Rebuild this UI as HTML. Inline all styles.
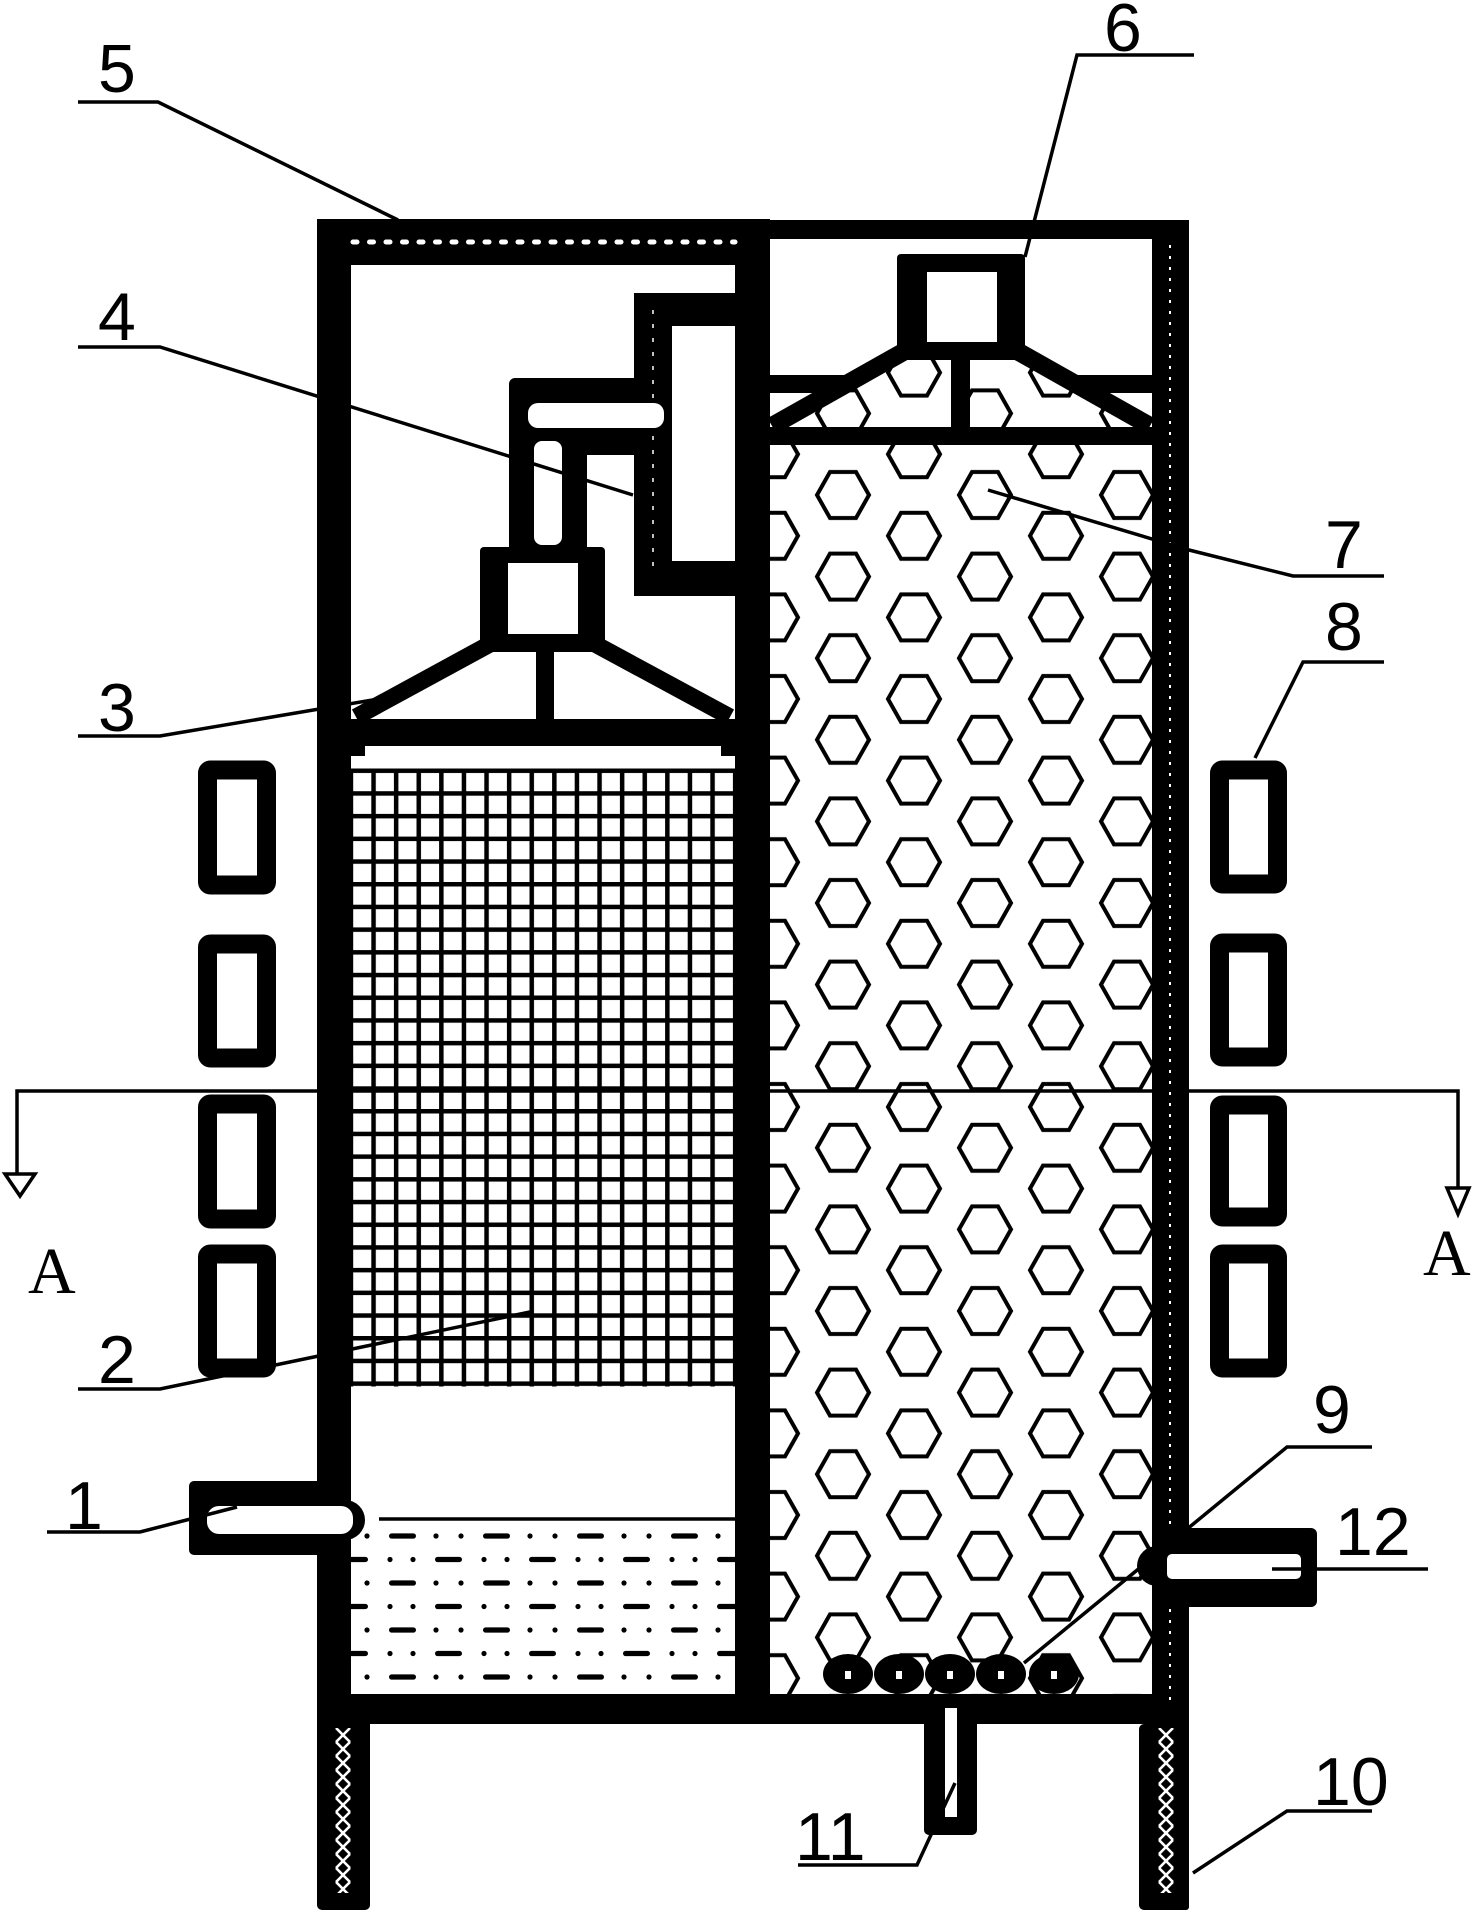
<!DOCTYPE html>
<html><head><meta charset="utf-8"><style>
html,body{margin:0;padding:0;background:#fff;}
svg{display:block;}
text{font-family:"Liberation Sans",sans-serif;font-size:68px;fill:#000;}
.a{font-family:"Liberation Serif",serif;font-size:66px;}
</style></head><body>
<svg width="1474" height="1915" viewBox="0 0 1474 1915" xmlns="http://www.w3.org/2000/svg">
<defs>
  <pattern id="hex" patternUnits="userSpaceOnUse" x="843" y="495" width="142" height="81.6">
    <g fill="none" stroke="#000" stroke-width="4">
      <polygon points="-26,0 -13,-23 13,-23 26,0 13,23 -13,23"/>
      <polygon points="116,0 129,-23 155,-23 168,0 155,23 129,23"/>
      <polygon points="-26,81.6 -13,58.6 13,58.6 26,81.6 13,104.6 -13,104.6"/>
      <polygon points="116,81.6 129,58.6 155,58.6 168,81.6 155,104.6 129,104.6"/>
      <polygon points="45,40.8 58,17.8 84,17.8 97,40.8 84,63.8 58,63.8"/>
    </g>
  </pattern>
  <pattern id="grid" patternUnits="userSpaceOnUse" x="371.3" y="768.5" width="22.6" height="22.7">
    <rect x="0" y="0" width="4.5" height="22.7" fill="#000"/>
    <rect x="0" y="0" width="22.6" height="4.5" fill="#000"/>
  </pattern>
  <pattern id="liq" patternUnits="userSpaceOnUse" x="367" y="1536" width="94" height="47">
    <g fill="#000">
      <circle cx="0" cy="0" r="2.6"/><circle cx="94" cy="0" r="2.6"/>
      <rect x="22" y="-2.6" width="27" height="5.2" rx="2.6"/>
      <circle cx="69" cy="0" r="2.6"/>
      <circle cx="0" cy="47" r="2.6"/><circle cx="94" cy="47" r="2.6"/>
      <rect x="22" y="44.4" width="27" height="5.2" rx="2.6"/>
      <circle cx="69" cy="47" r="2.6"/>
      <circle cx="23" cy="23.5" r="2.6"/>
      <circle cx="46" cy="23.5" r="2.6"/>
      <rect x="68" y="20.9" width="27" height="5.2" rx="2.6"/>
      <rect x="-26" y="20.9" width="27" height="5.2" rx="2.6"/>
    </g>
  </pattern>
  <pattern id="hatch" patternUnits="userSpaceOnUse" x="334" y="1728" width="18" height="14">
    <path d="M2,0 L16,14 M16,0 L2,14" stroke="#fff" stroke-width="2.6"/>
  </pattern>
  <pattern id="hatch2" patternUnits="userSpaceOnUse" x="1157" y="1728" width="18" height="14">
    <path d="M2,0 L16,14 M16,0 L2,14" stroke="#fff" stroke-width="2.6"/>
  </pattern>
  <clipPath id="hexclip">
    <polygon points="897,345 1025,345 1152,420 1152,1694 769,1694 769,420"/>
  </clipPath>
</defs>

<rect x="769" y="300" width="383" height="1394" fill="url(#hex)" clip-path="url(#hexclip)"/>
<rect x="351" y="768.5" width="384" height="618" fill="url(#grid)"/>

<line x1="379" y1="1519" x2="735" y2="1519" stroke="#000" stroke-width="3.5"/>
<rect x="351" y="1525" width="384" height="165" fill="url(#liq)"/>

<g stroke="#000" stroke-width="3.5" fill="#fff">
  <polyline points="17,1175 17,1091 1458,1091 1458,1189" fill="none"/>
  <polygon points="5,1174 35,1174 20,1196"/>
  <polygon points="1447,1188 1469,1188 1458,1214"/>
</g>

<g fill="#000">
  <rect x="317" y="219" width="453" height="46"/>
  <rect x="735" y="220" width="454" height="19"/>
  <rect x="317" y="219" width="34" height="1505"/>
  <rect x="735" y="219" width="35" height="1475"/>
  <rect x="1152" y="220" width="37" height="1690" rx="3"/>
  <rect x="317" y="1694" width="872" height="30"/>
  <rect x="317" y="1694" width="53" height="216" rx="5"/>
  <rect x="1139" y="1724" width="50" height="186" rx="5"/>
</g>
<line x1="353" y1="242" x2="735" y2="242" stroke="#fff" stroke-width="5" stroke-dasharray="4 12.5" stroke-linecap="round"/>
<line x1="1170" y1="245" x2="1170" y2="1700" stroke="#fff" stroke-width="2" stroke-dasharray="3 8"/>
<rect x="334" y="1728" width="18" height="165" fill="url(#hatch)"/>
<rect x="1157" y="1728" width="18" height="165" fill="url(#hatch2)"/>

<g fill="#000">
  <rect x="634" y="293" width="101" height="303"/>
  <rect x="509" y="378" width="160" height="77" rx="6"/>
  <rect x="630" y="390" width="48" height="55" rx="22"/>
  <rect x="509" y="430" width="78" height="120"/>
  <rect x="480" y="547" width="125" height="105" rx="4"/>
  <rect x="536" y="645" width="18" height="76"/>
  <rect x="351" y="719" width="384" height="27"/>
  <rect x="351" y="740" width="14" height="16"/>
  <rect x="721" y="740" width="14" height="16"/>
</g>
<rect x="672" y="326" width="63" height="235" fill="#fff"/>
<line x1="653" y1="310" x2="653" y2="575" stroke="#fff" stroke-width="1.5" stroke-dasharray="4 10"/>
<rect x="528" y="403" width="136" height="25" rx="10" fill="#fff"/>
<rect x="534" y="441" width="28" height="104" rx="8" fill="#fff"/>
<rect x="508" y="563" width="70" height="71" fill="#fff"/>
<g stroke="#000" stroke-width="17" stroke-linecap="butt">
  <line x1="490" y1="644" x2="356" y2="717"/>
  <line x1="595" y1="644" x2="730" y2="717"/>
</g>

<g fill="#000">
  <rect x="897" y="254" width="128" height="106" rx="4"/>
  <rect x="951" y="355" width="19" height="74"/>
  <rect x="769" y="427" width="383" height="18"/>
  <rect x="769" y="375" width="78" height="18"/>
  <rect x="1076" y="375" width="76" height="18"/>
</g>
<rect x="927" y="272" width="70" height="70" fill="#fff"/>
<g stroke="#000" stroke-width="18">
  <line x1="905" y1="351" x2="772" y2="426"/>
  <line x1="1017" y1="351" x2="1150" y2="426"/>
</g>

<g fill="#000">
  <ellipse cx="848" cy="1674" rx="25" ry="20"/><ellipse cx="899" cy="1674" rx="25" ry="20"/>
  <ellipse cx="950" cy="1674" rx="25" ry="20"/><ellipse cx="1001" cy="1674" rx="25" ry="20"/>
  <ellipse cx="1054" cy="1674" rx="25" ry="20"/>
</g>
<g fill="#fff">
  <rect x="845" y="1671" width="6" height="8"/><rect x="896" y="1671" width="6" height="8"/>
  <rect x="947" y="1671" width="6" height="8"/><rect x="998" y="1671" width="6" height="8"/>
  <rect x="1051" y="1671" width="6" height="8"/>
</g>

<rect x="924" y="1694" width="53" height="141" rx="5" fill="#000"/>
<rect x="945" y="1708" width="12" height="109" fill="#fff"/>

<rect x="189" y="1481" width="140" height="74" rx="5" fill="#000"/>
<circle cx="345" cy="1520" r="20" fill="#000"/>
<rect x="207" y="1506" width="146" height="28" rx="12" fill="#fff"/>

<rect x="1152" y="1528" width="165" height="79" rx="6" fill="#000"/>
<circle cx="1157" cy="1566" r="20" fill="#000"/>
<rect x="1167" y="1554" width="134" height="25" rx="5" fill="#fff"/>

<g fill="none" stroke="#000" stroke-width="19">
  <rect x="207.5" y="770" width="59" height="115" rx="3"/>
  <rect x="207.5" y="944" width="59" height="114" rx="3"/>
  <rect x="207.5" y="1104" width="59" height="115" rx="3"/>
  <rect x="207.5" y="1254" width="59" height="114" rx="3"/>
  <rect x="1219.5" y="770" width="58" height="114" rx="3"/>
  <rect x="1219.5" y="943" width="58" height="114" rx="3"/>
  <rect x="1219.5" y="1105" width="58" height="112" rx="3"/>
  <rect x="1219.5" y="1254" width="58" height="114" rx="3"/>
</g>

<g stroke="#000" stroke-width="3.5" fill="none">
  <polyline points="78,102 158,102 398,220"/>
  <polyline points="78,347 160,347 633,495"/>
  <polyline points="78,736 160,736 390,697"/>
  <polyline points="78,1389 160,1389 530,1312"/>
  <polyline points="47,1532 140,1532 237,1507"/>
  <polyline points="1194,55 1077,55 1025,257"/>
  <polyline points="988,490 1189,550 1293,576 1384,576"/>
  <polyline points="1384,662 1303,662 1255,758"/>
  <polyline points="1372,1447 1287,1447 1024,1663"/>
  <polyline points="1272,1569 1428,1569"/>
  <polyline points="1372,1811 1287,1811 1193,1873"/>
  <polyline points="798,1865 917,1865 955,1783"/>
</g>

<text x="98" y="92">5</text>
<text x="98" y="340">4</text>
<text x="98" y="731">3</text>
<text x="98" y="1383">2</text>
<text x="65" y="1529">1</text>
<text x="1104" y="51">6</text>
<text x="1325" y="568">7</text>
<text x="1325" y="650">8</text>
<text x="1313" y="1433">9</text>
<text x="1335" y="1555">12</text>
<text x="1313" y="1805">10</text>
<text x="795" y="1860">11</text>
<text class="a" x="28" y="1293">A</text>
<text class="a" x="1423" y="1275">A</text>
</svg>
</body></html>
